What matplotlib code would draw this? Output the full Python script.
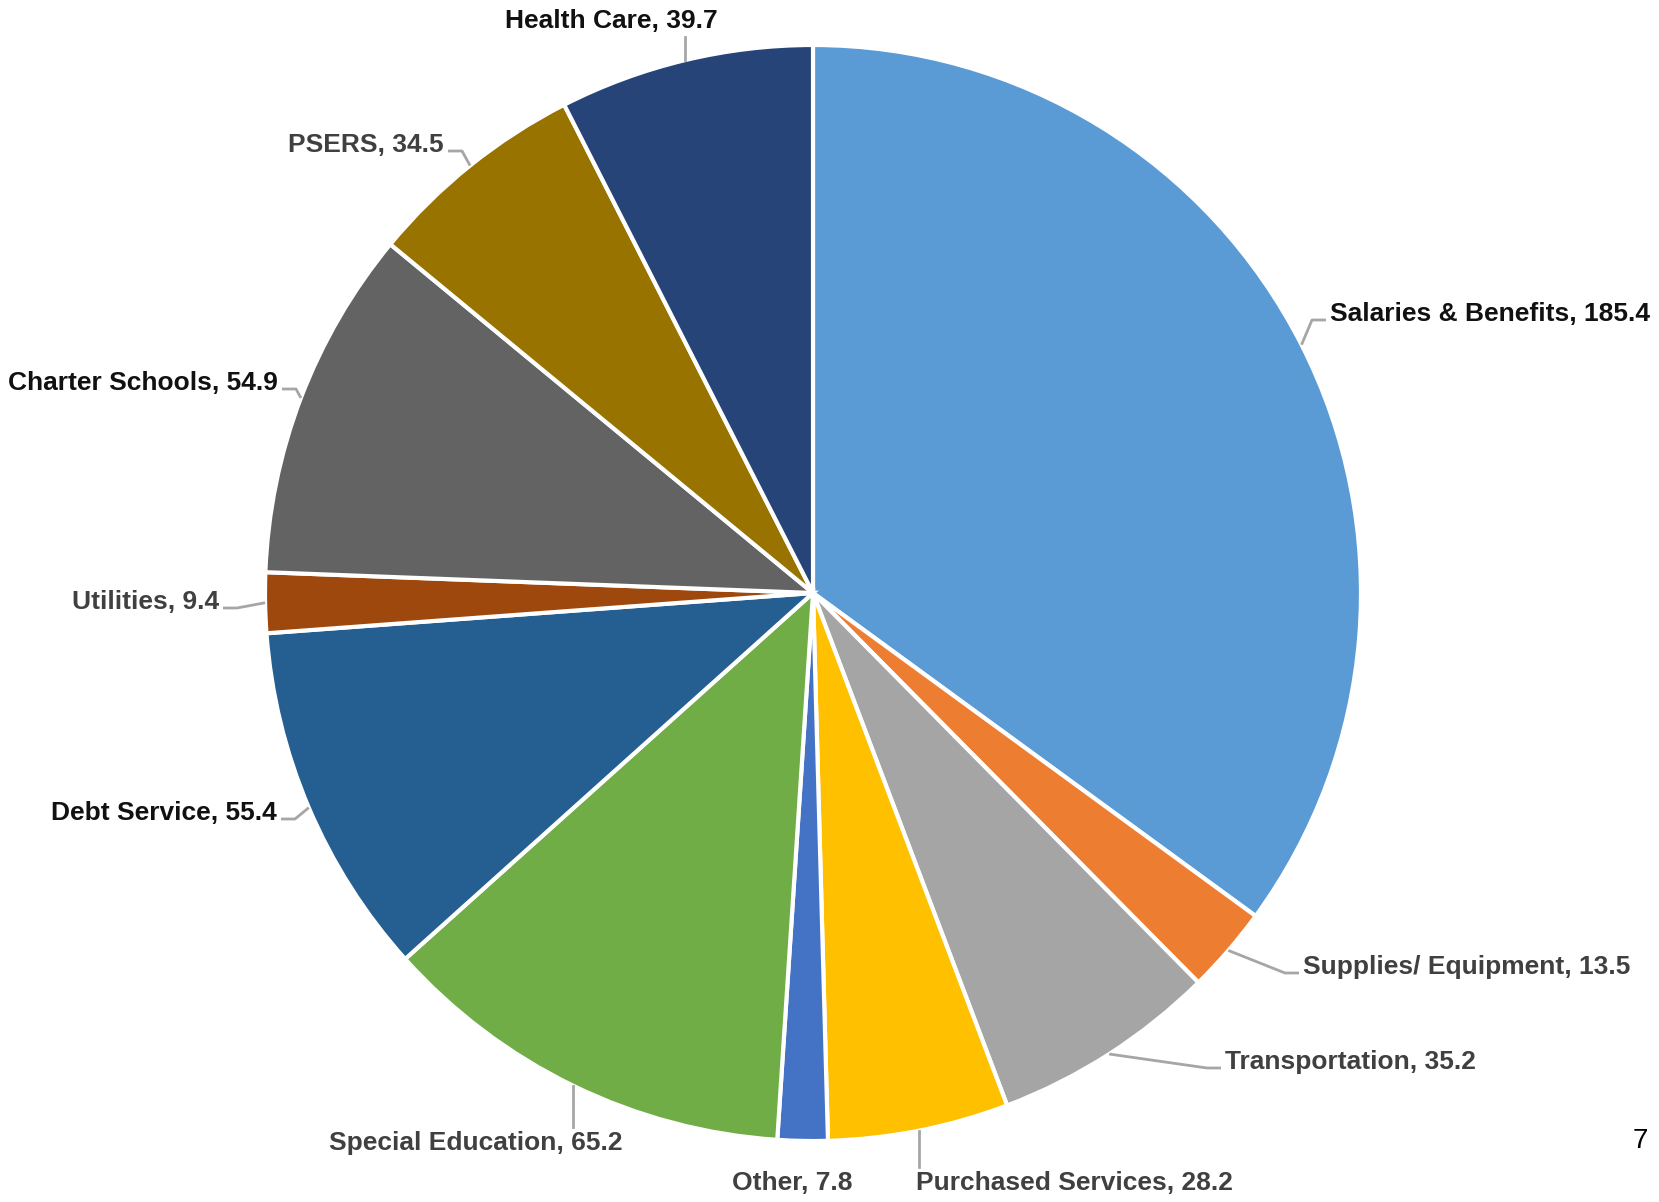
import numpy as np
import matplotlib.pyplot as plt

plt.rcParams['font.family'] = ['Liberation Sans Narrow', 'Liberation Sans', 'DejaVu Sans']

W, H = 1659, 1202

categories = ["Salaries & Benefits", "Supplies/ Equipment", "Transportation",
              "Purchased Services", "Other", "Special Education", "Debt Service",
              "Utilities", "Charter Schools", "PSERS", "Health Care"]
values = [185.4, 13.5, 35.2, 28.2, 7.8, 65.2, 55.4, 9.4, 54.9, 34.5, 39.7]
colors = ["#5B9BD5", "#ED7D31", "#A5A5A5", "#FFC000", "#4472C4", "#70AD47",
          "#255E91", "#9E480E", "#636363", "#997300", "#264478"]
text_colors = ["#111111", "#404040", "#404040", "#404040", "#404040", "#404040",
               "#111111", "#404040", "#111111", "#404040", "#111111"]

# label placement in pixel coords (x, y from top, alignment, leader style)
label_pos = [
    (1330, 314, "left", "h"),
    (1303, 967, "left", "h"),
    (1225, 1062, "left", "h"),
    (916, 1183, "left", "v"),
    (792, 1183, "center", None),
    (476, 1143, "center", "v"),
    (277, 813, "right", "h"),
    (219, 602, "right", "h"),
    (278, 383, "right", "h"),
    (444, 145, "right", "h"),
    (611, 21, "center", "v"),
]

cx, cy, R = 813, H - 593, 548

fig = plt.figure(figsize=(W / 100, H / 100), dpi=100)
ax = fig.add_axes([0, 0, 1, 1])

wedges, _ = ax.pie(values, colors=colors, startangle=90, counterclock=False,
                   center=(cx, cy), radius=R,
                   wedgeprops=dict(edgecolor='white', linewidth=3))
# pie() resets the limits, so work in pixel units afterwards
ax.set_xlim(0, W)
ax.set_ylim(0, H)
ax.set_aspect('equal')
ax.axis('off')

for w, cat, val, tc, (tx, ty, ha, style) in zip(wedges, categories, values, text_colors, label_pos):
    mid = np.deg2rad((w.theta1 + w.theta2) / 2)
    ax_ = cx + R * np.cos(mid)
    ay_ = cy + R * np.sin(mid)
    ty = H - ty
    ax.text(tx, ty, f"{cat}, {val}", ha=ha, va='center', fontsize=19,
            fontweight='bold', color=tc)
    if style == "h":
        side = 1 if ha == "left" else -1
        ex = tx - side * 4
        ax.plot([ax_, ex - side * 14, ex], [ay_, ty - 6, ty - 6],
                color='#A6A6A6', lw=2, solid_capstyle='butt')
    elif style == "v":
        # stop just short of the text edge facing the pie
        end = ty - 16 if ay_ < ty else ty + 16
        ax.plot([ax_, ax_], [ay_, end], color='#A6A6A6', lw=2)

# page number
ax.text(1640, H - 1141, "7", ha='center', va='center', fontsize=20,
        family='Liberation Sans', color='black')

fig.savefig("out.png", dpi=100)
